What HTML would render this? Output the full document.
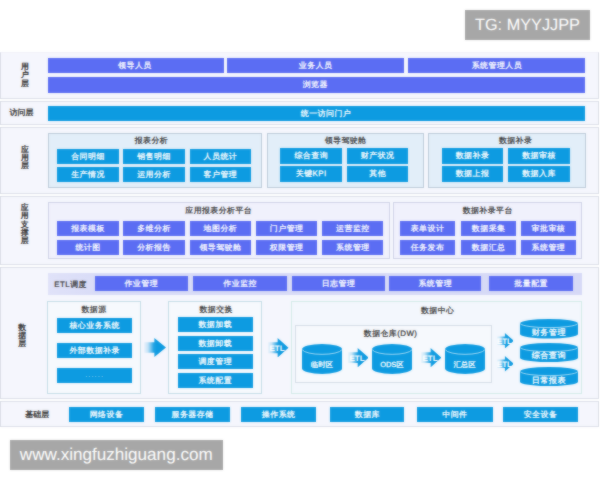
<!DOCTYPE html>
<html lang="zh"><head><meta charset="utf-8"><title>diagram</title>
<style>
html,body{margin:0;padding:0;}
body{text-rendering:geometricPrecision;width:600px;height:480px;background:#fff;position:relative;overflow:hidden;font-family:"Liberation Sans",sans-serif;}
#stage{position:absolute;left:0;top:0;width:600px;height:480px;overflow:hidden;}
#stage div,.abs{position:absolute;box-sizing:border-box;white-space:nowrap;}
.panel{background:#f5f6fd;border:1px solid #dcdfe8;}
.pb{background:#5b6df3;color:#fff;font-size:7.9px;letter-spacing:0.5px;padding-left:0.5px;-webkit-text-stroke:0.25px #fff;text-align:center;}
.bb{background:#0d9be1;color:#fff;font-size:7.9px;letter-spacing:0.5px;padding-left:0.5px;-webkit-text-stroke:0.25px #fff;text-align:center;}
.in3{background:#e2eef9;border:1px solid #bccbd9;}
.in4{background:#f0f1fc;border:1px solid #cfd2e6;}
.in5{background:#f6f9fd;border:1px solid #c5dde6;}
.in5c{background:#f3f7fd;border:1px solid #d3ebe9;}
.in5d{background:#f6f9fd;border:1px solid #d5dde6;}
.soft{left:0;top:0;width:600px;height:480px;-webkit-backdrop-filter:blur(0.8px);backdrop-filter:blur(0.8px);opacity:0.5;pointer-events:none;}
.etlbar{background:linear-gradient(90deg,#e0e2f9 0,#d9dcf7 9%,#d6d9f6 100%);}
.t{color:#333;font-size:7.9px;letter-spacing:0.45px;padding-left:0.45px;text-align:center;-webkit-text-stroke:0.2px #333;}
.lab{color:#333;font-size:7.9px;letter-spacing:0.1px;text-align:center;-webkit-text-stroke:0.3px #333;}
.ct{color:#fff;font-size:8.1px;letter-spacing:0.5px;padding-left:0.5px;-webkit-text-stroke:0.25px #fff;text-align:center;}
.ct2{color:#fff;font-size:7.4px;-webkit-text-stroke:0.25px #fff;text-align:center;}
.wm{background:#a7a7a7;color:#fff;text-align:center;}
</style></head>
<body>
<div id="stage">
<svg class="abs" width="0" height="0" style="left:0;top:0"><defs>
<linearGradient id="ag" x1="0" y1="0" x2="1" y2="0"><stop offset="0" stop-color="#0d9be1" stop-opacity="0.04"/><stop offset="0.18" stop-color="#0d9be1" stop-opacity="0.22"/><stop offset="0.45" stop-color="#0d9be1" stop-opacity="0.92"/><stop offset="0.6" stop-color="#0d9be1"/><stop offset="1" stop-color="#0d9be1"/></linearGradient>
</defs></svg>
<div class="panel" style="left:-0.5px;top:51.5px;width:599.5px;height:47.0px;line-height:47.0px;border-top-color:#f0f1f8;"></div>
<div class="panel" style="left:-0.5px;top:100.5px;width:599.5px;height:24.5px;line-height:24.5px;"></div>
<div class="panel" style="left:-0.5px;top:127.0px;width:599.5px;height:67.0px;line-height:67.0px;"></div>
<div class="panel" style="left:-0.5px;top:196.0px;width:599.5px;height:68.5px;line-height:68.5px;"></div>
<div class="panel" style="left:-0.5px;top:266.5px;width:599.5px;height:132.0px;line-height:132.0px;"></div>
<div class="panel" style="left:-0.5px;top:401.0px;width:599.5px;height:26.0px;line-height:26.0px;"></div>
<div class="pb" style="left:48px;top:57.5px;width:175.75px;height:15.75px;line-height:16.95px;padding-right:2.5px;">领导人员</div>
<div class="pb" style="left:227px;top:57.5px;width:176.75px;height:15.75px;line-height:16.95px;">业务人员</div>
<div class="pb" style="left:408.25px;top:57.5px;width:176.75px;height:15.75px;line-height:16.95px;">系统管理人员</div>
<div class="pb" style="left:48px;top:77px;width:537px;height:15.599999999999994px;line-height:16.799999999999994px;padding-right:3px;">浏览器</div>
<div class="lab" style="left:15px;top:60.5px;width:20px;height:12px;line-height:12px;">用</div>
<div class="lab" style="left:15px;top:68.75px;width:20px;height:12px;line-height:12px;">户</div>
<div class="lab" style="left:15px;top:77.5px;width:20px;height:12px;line-height:12px;">层</div>
<div class="bb" style="left:48px;top:105.5px;width:537px;height:15.25px;line-height:16.45px;padding-left:19px;">统一访问门户</div>
<div class="lab" style="left:1.6000000000000014px;top:107px;width:40px;height:12px;line-height:12px;">访问层</div>
<div class="in3" style="left:47.5px;top:132.5px;width:214.25px;height:55.5px;line-height:55.5px;"></div>
<div class="in3" style="left:266.5px;top:132.5px;width:157.75px;height:55.5px;line-height:55.5px;"></div>
<div class="in3" style="left:427.75px;top:132.5px;width:157.75px;height:55.5px;line-height:55.5px;"></div>
<div class="t" style="left:91.25px;top:134.5px;width:120px;height:12px;line-height:12px;">报表分析</div>
<div class="t" style="left:285.4px;top:134.5px;width:120px;height:12px;line-height:12px;">领导驾驶舱</div>
<div class="t" style="left:455.4px;top:134.5px;width:120px;height:12px;line-height:12px;">数据补录</div>
<div class="bb" style="left:57px;top:148.5px;width:61.5px;height:15.5px;line-height:16.7px;">合同明细</div>
<div class="bb" style="left:123px;top:148.5px;width:61.5px;height:15.5px;line-height:16.7px;">销售明细</div>
<div class="bb" style="left:189.5px;top:148.5px;width:61.25px;height:15.5px;line-height:16.7px;">人员统计</div>
<div class="bb" style="left:57px;top:166.75px;width:61.5px;height:15.25px;line-height:16.45px;">生产情况</div>
<div class="bb" style="left:123px;top:166.75px;width:61.5px;height:15.25px;line-height:16.45px;">运用分析</div>
<div class="bb" style="left:189.5px;top:166.75px;width:61.25px;height:15.25px;line-height:16.45px;">客户管理</div>
<div class="bb" style="left:280px;top:148.0px;width:62px;height:15.5px;line-height:16.7px;">综合查询</div>
<div class="bb" style="left:346.75px;top:148.0px;width:61.25px;height:15.5px;line-height:16.7px;">财产状况</div>
<div class="bb" style="left:280px;top:166.25px;width:62px;height:15.25px;line-height:16.45px;">关键KPI</div>
<div class="bb" style="left:346.75px;top:166.25px;width:61.25px;height:15.25px;line-height:16.45px;">其他</div>
<div class="bb" style="left:441.5px;top:148.0px;width:61.5px;height:15.5px;line-height:16.7px;">数据补录</div>
<div class="bb" style="left:508px;top:148.0px;width:61.5px;height:15.5px;line-height:16.7px;">数据审核</div>
<div class="bb" style="left:441.5px;top:166.25px;width:61.5px;height:15.25px;line-height:16.45px;">数据上报</div>
<div class="bb" style="left:508px;top:166.25px;width:61.5px;height:15.25px;line-height:16.45px;">数据入库</div>
<div class="lab" style="left:15px;top:144px;width:20px;height:12px;line-height:12px;">应</div>
<div class="lab" style="left:15px;top:152px;width:20px;height:12px;line-height:12px;">用</div>
<div class="lab" style="left:15px;top:160px;width:20px;height:12px;line-height:12px;">层</div>
<div class="in4" style="left:47.5px;top:201.5px;width:342.25px;height:57.75px;line-height:57.75px;"></div>
<div class="in4" style="left:392.5px;top:201.5px;width:189.75px;height:57.75px;line-height:57.75px;"></div>
<div class="t" style="left:158.5px;top:204.5px;width:120px;height:12px;line-height:12px;">应用报表分析平台</div>
<div class="t" style="left:427.5px;top:204.5px;width:120px;height:12px;line-height:12px;">数据补录平台</div>
<div class="pb" style="left:57px;top:220.5px;width:61.5px;height:15.0px;line-height:16.2px;">报表模板</div>
<div class="pb" style="left:123px;top:220.5px;width:61.5px;height:15.0px;line-height:16.2px;">多维分析</div>
<div class="pb" style="left:189.5px;top:220.5px;width:61.25px;height:15.0px;line-height:16.2px;">地图分析</div>
<div class="pb" style="left:255.75px;top:220.5px;width:61.25px;height:15.0px;line-height:16.2px;">门户管理</div>
<div class="pb" style="left:322px;top:220.5px;width:61.25px;height:15.0px;line-height:16.2px;">运营监控</div>
<div class="pb" style="left:57px;top:239.5px;width:61.5px;height:15.0px;line-height:16.2px;">统计图</div>
<div class="pb" style="left:123px;top:239.5px;width:61.5px;height:15.0px;line-height:16.2px;">分析报告</div>
<div class="pb" style="left:189.5px;top:239.5px;width:61.25px;height:15.0px;line-height:16.2px;">领导驾驶舱</div>
<div class="pb" style="left:255.75px;top:239.5px;width:61.25px;height:15.0px;line-height:16.2px;">权限管理</div>
<div class="pb" style="left:322px;top:239.5px;width:61.25px;height:15.0px;line-height:16.2px;">系统管理</div>
<div class="pb" style="left:399.5px;top:220.5px;width:55.5px;height:15.0px;line-height:16.2px;">表单设计</div>
<div class="pb" style="left:460.5px;top:220.5px;width:55.75px;height:15.0px;line-height:16.2px;">数据采集</div>
<div class="pb" style="left:520.5px;top:220.5px;width:55.25px;height:15.0px;line-height:16.2px;">审批审核</div>
<div class="pb" style="left:399.5px;top:239.5px;width:55.5px;height:15.0px;line-height:16.2px;">任务发布</div>
<div class="pb" style="left:460.5px;top:239.5px;width:55.75px;height:15.0px;line-height:16.2px;">数据汇总</div>
<div class="pb" style="left:520.5px;top:239.5px;width:55.25px;height:15.0px;line-height:16.2px;">系统管理</div>
<div class="lab" style="left:14.75px;top:201.75px;width:20px;height:12px;line-height:12px;">应</div>
<div class="lab" style="left:14.75px;top:210.2px;width:20px;height:12px;line-height:12px;">用</div>
<div class="lab" style="left:14.75px;top:218.5px;width:20px;height:12px;line-height:12px;">支</div>
<div class="lab" style="left:14.75px;top:227px;width:20px;height:12px;line-height:12px;">撑</div>
<div class="lab" style="left:14.75px;top:234.75px;width:20px;height:12px;line-height:12px;">层</div>
<div class="etlbar" style="left:48px;top:272.5px;width:533.75px;height:22.0px;line-height:22.0px;"></div>
<div class="t" style="left:40.400000000000006px;top:278.5px;width:60px;height:12px;line-height:12px;">ETL调度</div>
<div class="pb" style="left:94.5px;top:275.75px;width:93.0px;height:15.5px;line-height:16.7px;">作业管理</div>
<div class="pb" style="left:193px;top:275.75px;width:93.75px;height:15.5px;line-height:16.7px;">作业监控</div>
<div class="pb" style="left:292px;top:275.75px;width:92.5px;height:15.5px;line-height:16.7px;">日志管理</div>
<div class="pb" style="left:388.75px;top:275.75px;width:92.5px;height:15.5px;line-height:16.7px;">系统管理</div>
<div class="pb" style="left:488.75px;top:275.75px;width:84.25px;height:15.5px;line-height:16.7px;">批量配置</div>
<div class="in5" style="left:47.0px;top:300.75px;width:94.0px;height:93.5px;line-height:93.5px;"></div>
<div class="t" style="left:33.75px;top:303.5px;width:120px;height:12px;line-height:12px;">数据源</div>
<div class="bb" style="left:57px;top:317.5px;width:74.75px;height:15.5px;line-height:16.7px;">核心业务系统</div>
<div class="bb" style="left:57px;top:342.5px;width:74.75px;height:15.5px;line-height:16.7px;">外部数据补录</div>
<div class="bb" style="left:57px;top:367.5px;width:74.75px;height:15.5px;line-height:16.7px;font-size:6px;letter-spacing:1.15px;color:rgba(255,255,255,.95);-webkit-text-stroke:0;line-height:19.6px;">······</div>
<div class="in5" style="left:167.5px;top:300.75px;width:94.25px;height:93.5px;line-height:93.5px;"></div>
<div class="t" style="left:156.0px;top:303.5px;width:120px;height:12px;line-height:12px;">数据交换</div>
<div class="bb" style="left:177.5px;top:317px;width:75.0px;height:15px;line-height:16.2px;">数据加载</div>
<div class="bb" style="left:177.5px;top:335.5px;width:75.0px;height:15.0px;line-height:16.2px;">数据卸载</div>
<div class="bb" style="left:177.5px;top:354.25px;width:75.0px;height:14.75px;line-height:15.95px;">调度管理</div>
<div class="bb" style="left:177.5px;top:372.5px;width:75.0px;height:15.0px;line-height:16.2px;">系统配置</div>
<div class="in5c" style="left:291.25px;top:300.75px;width:291.0px;height:93.5px;line-height:93.5px;"></div>
<div class="t" style="left:377.5px;top:305.25px;width:120px;height:12px;line-height:12px;">数据中心</div>
<div class="in5d" style="left:294.5px;top:324.5px;width:197.25px;height:58.5px;line-height:58.5px;"></div>
<div class="t" style="left:330.4px;top:328px;width:120px;height:12px;line-height:12px;">数据仓库(DW)</div>
<div class="lab" style="left:12.2px;top:321.6px;width:20px;height:12px;line-height:12px;">数</div>
<div class="lab" style="left:12.2px;top:330px;width:20px;height:12px;line-height:12px;">据</div>
<div class="lab" style="left:12.2px;top:338.4px;width:20px;height:12px;line-height:12px;">层</div>
<svg class="abs" style="left:144px;top:337.75px" width="22" height="19.0" viewBox="0 0 22 19.0"><polygon points="0,4.18 10.34,4.18 10.34,0 22.00,9.50 10.34,19.00 10.34,14.82 0,14.82" fill="url(#ag)"/></svg>
<svg class="abs" style="left:268px;top:337.5px" width="20.5" height="19.5" viewBox="0 0 20.5 19.5"><polygon points="0,4.29 9.63,4.29 9.63,0 20.50,9.75 9.63,19.50 9.63,15.21 0,15.21" fill="url(#ag)"/><text x="9.02" y="12.65" text-anchor="middle" font-size="8" font-weight="bold" fill="#fff" font-family="Liberation Sans, sans-serif">ETL</text></svg>
<svg class="abs" style="left:347.7px;top:347.7px" width="20.600000000000023" height="19.30000000000001" viewBox="0 0 20.600000000000023 19.30000000000001"><polygon points="0,4.25 9.68,4.25 9.68,0 20.60,9.65 9.68,19.30 9.68,15.05 0,15.05" fill="url(#ag)"/><text x="9.06" y="12.55" text-anchor="middle" font-size="8" font-weight="bold" fill="#fff" font-family="Liberation Sans, sans-serif">ETL</text></svg>
<svg class="abs" style="left:420.5px;top:347.7px" width="20.5" height="19.30000000000001" viewBox="0 0 20.5 19.30000000000001"><polygon points="0,4.25 9.63,4.25 9.63,0 20.50,9.65 9.63,19.30 9.63,15.05 0,15.05" fill="url(#ag)"/><text x="9.02" y="12.55" text-anchor="middle" font-size="8" font-weight="bold" fill="#fff" font-family="Liberation Sans, sans-serif">ETL</text></svg>
<svg class="abs" style="left:496.7px;top:332.8px" width="16.80000000000001" height="15.5" viewBox="0 0 16.80000000000001 15.5"><polygon points="0,3.41 7.90,3.41 7.90,0 16.80,7.75 7.90,15.50 7.90,12.09 0,12.09" fill="url(#ag)"/><text x="7.39" y="10.65" text-anchor="middle" font-size="8" font-weight="bold" fill="#fff" font-family="Liberation Sans, sans-serif">ETL</text></svg>
<svg class="abs" style="left:496.7px;top:356px" width="16.80000000000001" height="15.5" viewBox="0 0 16.80000000000001 15.5"><polygon points="0,3.41 7.90,3.41 7.90,0 16.80,7.75 7.90,15.50 7.90,12.09 0,12.09" fill="url(#ag)"/><text x="7.39" y="10.65" text-anchor="middle" font-size="8" font-weight="bold" fill="#fff" font-family="Liberation Sans, sans-serif">ETL</text></svg>
<svg class="abs" style="left:301.75px;top:344px" width="40.14999999999998" height="29.899999999999977" viewBox="0 0 40.14999999999998 29.899999999999977"><path d="M0,5.50 A20.07,5.50 0 0 1 40.15,5.50 L40.15,24.40 A20.07,5.50 0 0 1 0,24.40 Z" fill="#0d9be1"/><path d="M0.3,5.80 A20.07,5.50 0 0 0 39.85,5.80" fill="none" stroke="#bfe6f8" stroke-width="0.8"/></svg>
<div class="ct2" style="left:301.75px;top:359.4px;width:40.14999999999998px;height:12px;line-height:12px;">临时区</div>
<svg class="abs" style="left:371.75px;top:344px" width="40.25" height="29.899999999999977" viewBox="0 0 40.25 29.899999999999977"><path d="M0,5.50 A20.12,5.50 0 0 1 40.25,5.50 L40.25,24.40 A20.12,5.50 0 0 1 0,24.40 Z" fill="#0d9be1"/><path d="M0.3,5.80 A20.12,5.50 0 0 0 39.95,5.80" fill="none" stroke="#bfe6f8" stroke-width="0.8"/></svg>
<div class="ct2" style="left:371.75px;top:359.4px;width:40.25px;height:12px;line-height:12px;">ODS区</div>
<svg class="abs" style="left:444.5px;top:344px" width="40.10000000000002" height="29.899999999999977" viewBox="0 0 40.10000000000002 29.899999999999977"><path d="M0,5.50 A20.05,5.50 0 0 1 40.10,5.50 L40.10,24.40 A20.05,5.50 0 0 1 0,24.40 Z" fill="#0d9be1"/><path d="M0.3,5.80 A20.05,5.50 0 0 0 39.80,5.80" fill="none" stroke="#bfe6f8" stroke-width="0.8"/></svg>
<div class="ct2" style="left:444.5px;top:359.4px;width:40.10000000000002px;height:12px;line-height:12px;">汇总区</div>
<svg class="abs" style="left:519.6px;top:319px" width="58.0" height="19.600000000000023" viewBox="0 0 58.0 19.600000000000023"><path d="M0,4.50 A29.00,4.50 0 0 1 58.00,4.50 L58.00,15.10 A29.00,4.50 0 0 1 0,15.10 Z" fill="#0d9be1"/><path d="M0.3,4.80 A29.00,4.50 0 0 0 57.70,4.80" fill="none" stroke="#bfe6f8" stroke-width="0.8"/></svg>
<div class="ct" style="left:519.6px;top:326.7px;width:58.0px;height:12px;line-height:12px;">财务管理</div>
<svg class="abs" style="left:519.6px;top:342.8px" width="58.0" height="19.19999999999999" viewBox="0 0 58.0 19.19999999999999"><path d="M0,4.50 A29.00,4.50 0 0 1 58.00,4.50 L58.00,14.70 A29.00,4.50 0 0 1 0,14.70 Z" fill="#0d9be1"/><path d="M0.3,4.80 A29.00,4.50 0 0 0 57.70,4.80" fill="none" stroke="#bfe6f8" stroke-width="0.8"/></svg>
<div class="ct" style="left:519.6px;top:350.4px;width:58.0px;height:12px;line-height:12px;">综合查询</div>
<svg class="abs" style="left:519.6px;top:367px" width="58.0" height="19.19999999999999" viewBox="0 0 58.0 19.19999999999999"><path d="M0,4.50 A29.00,4.50 0 0 1 58.00,4.50 L58.00,14.70 A29.00,4.50 0 0 1 0,14.70 Z" fill="#0d9be1"/><path d="M0.3,4.80 A29.00,4.50 0 0 0 57.70,4.80" fill="none" stroke="#bfe6f8" stroke-width="0.8"/></svg>
<div class="ct" style="left:519.6px;top:374.9px;width:58.0px;height:12px;line-height:12px;">日常报表</div>
<div class="bb" style="left:68.75px;top:407px;width:75.0px;height:15px;line-height:16.2px;">网络设备</div>
<div class="bb" style="left:154.5px;top:407px;width:75.5px;height:15px;line-height:16.2px;">服务器存储</div>
<div class="bb" style="left:241.25px;top:407px;width:74.25px;height:15px;line-height:16.2px;">操作系统</div>
<div class="bb" style="left:330px;top:407px;width:74.25px;height:15px;line-height:16.2px;">数据库</div>
<div class="bb" style="left:416.75px;top:407px;width:75.75px;height:15px;line-height:16.2px;">中间件</div>
<div class="bb" style="left:502.5px;top:407px;width:75.5px;height:15px;line-height:16.2px;">安全设备</div>
<div class="lab" style="left:17.25px;top:409px;width:40px;height:12px;line-height:12px;">基础层</div>
<div class="wm" style="left:465px;top:10px;width:125px;height:29.5px;line-height:31.5px;font-size:16.3px;">TG: MYYJJPP</div>
<div class="wm" style="left:10px;top:440px;width:212.5px;height:30px;line-height:29.5px;font-size:17.1px;">www.xingfuzhiguang.com</div>
<div class="soft"></div>
</div>
</body></html>
